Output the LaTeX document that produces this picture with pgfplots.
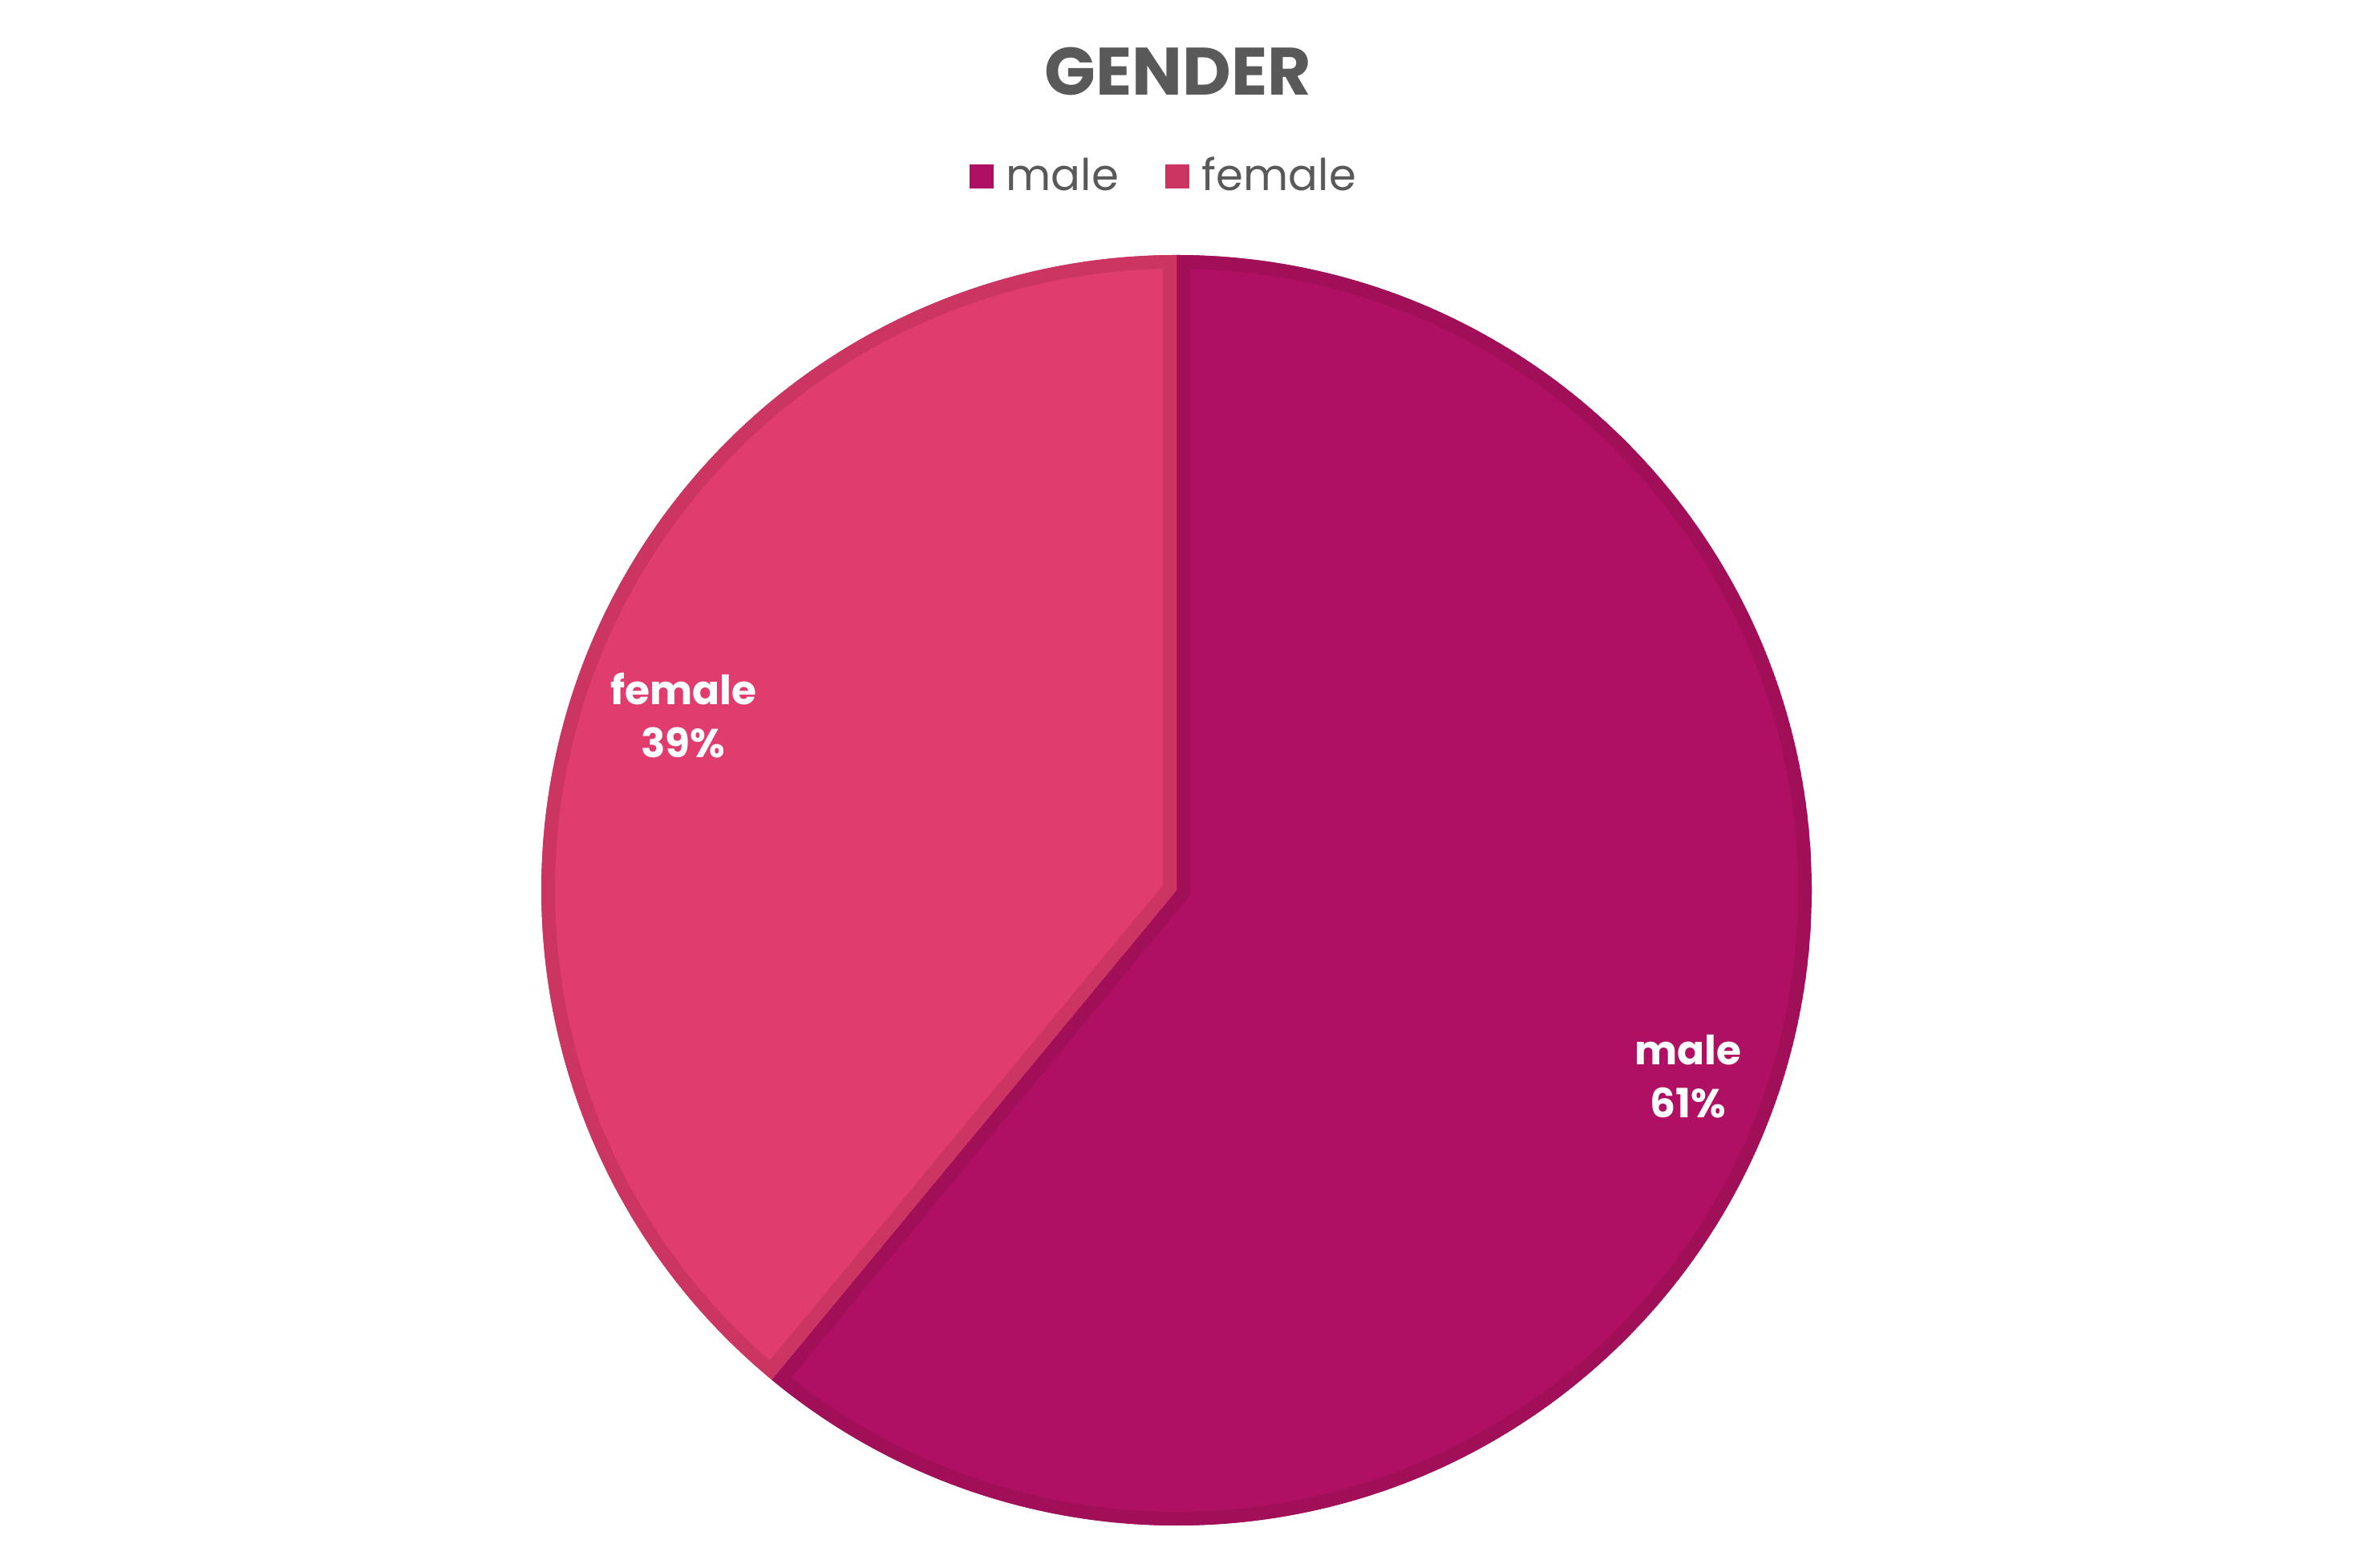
\documentclass[border=0pt]{standalone}
\usepackage{pgfplots}
\pgfplotsset{compat=1.18}
\usepackage{pgfplotstable}
\usepackage{fontspec}
\setmainfont{Poppins}
\definecolor{maleF}{HTML}{B01063}
\definecolor{maleB}{HTML}{A00F58}
\definecolor{femF}{HTML}{E03C6E}
\definecolor{femB}{HTML}{CC3562}
\definecolor{txt}{HTML}{595959}
\pgfplotstableread{
label value
male 61
female 39
}\gendertable
\begin{document}%
\begin{tikzpicture}
\pgfplotstablegetelem{0}{value}\of\gendertable \let\valA\pgfplotsretval
\pgfplotstablegetelem{1}{value}\of\gendertable \let\valB\pgfplotsretval
\pgfmathsetmacro\total{\valA+\valB}
\pgfmathsetmacro\aMid{90-\valA/\total*360}
\pgfmathsetmacro\aEnd{90-360}
\def\R{198bp}
\begin{axis}[
  width=733.5bp, height=488.75bp, scale only axis,
  xmin=0, xmax=2934, ymin=0, ymax=1955,
  hide axis, clip=false,
  legend image code/.code={\fill[#1] (0bp,-3.5bp) rectangle (7bp,3.5bp); \path (9.5bp,0bp);},
  legend style={at={(axis cs:1453,1735)}, anchor=center, draw=none, fill=none,
    legend columns=-1, font=\fontsize{13.7}{16}\selectfont, text=txt,
    /tikz/every even column/.append style={column sep=13bp},
    nodes={inner sep=1.5bp}},
]
\path (axis cs:0,0) rectangle (axis cs:2934,1955);
\addlegendimage{maleF}
\addlegendentry{male}
\addlegendimage{femB}
\addlegendentry{female}
% male slice
\begin{scope}
\clip (axis cs:1467,845) -- ++(90:\R) arc[start angle=90, end angle=\aMid, radius=\R] -- cycle;
\fill[maleF] (axis cs:1467,845) -- ++(90:\R) arc[start angle=90, end angle=\aMid, radius=\R] -- cycle;
\draw[maleB, line width=8.5bp, line join=miter] (axis cs:1467,845) -- ++(90:\R) arc[start angle=90, end angle=\aMid, radius=\R] -- cycle;
\end{scope}
% female slice
\begin{scope}
\clip (axis cs:1467,845) -- ++(\aMid:\R) arc[start angle=\aMid, end angle=\aEnd, radius=\R] -- cycle;
\fill[femF] (axis cs:1467,845) -- ++(\aMid:\R) arc[start angle=\aMid, end angle=\aEnd, radius=\R] -- cycle;
\draw[femB, line width=8.5bp, line join=miter] (axis cs:1467,845) -- ++(\aMid:\R) arc[start angle=\aMid, end angle=\aEnd, radius=\R] -- cycle;
\end{scope}
% title
\node[text=txt, font=\fontsize{21}{25}\selectfont\bfseries] at (axis cs:1469,1866) {GENDER};
% data labels
\node[text=white, align=center, font=\fontsize{12.6}{16.5}\selectfont\bfseries] at (axis cs:2105,613) {male\\61\%};
\node[text=white, align=center, font=\fontsize{12.6}{16.5}\selectfont\bfseries] at (axis cs:852,1063) {female\\39\%};
\end{axis}
\end{tikzpicture}%
\end{document}
